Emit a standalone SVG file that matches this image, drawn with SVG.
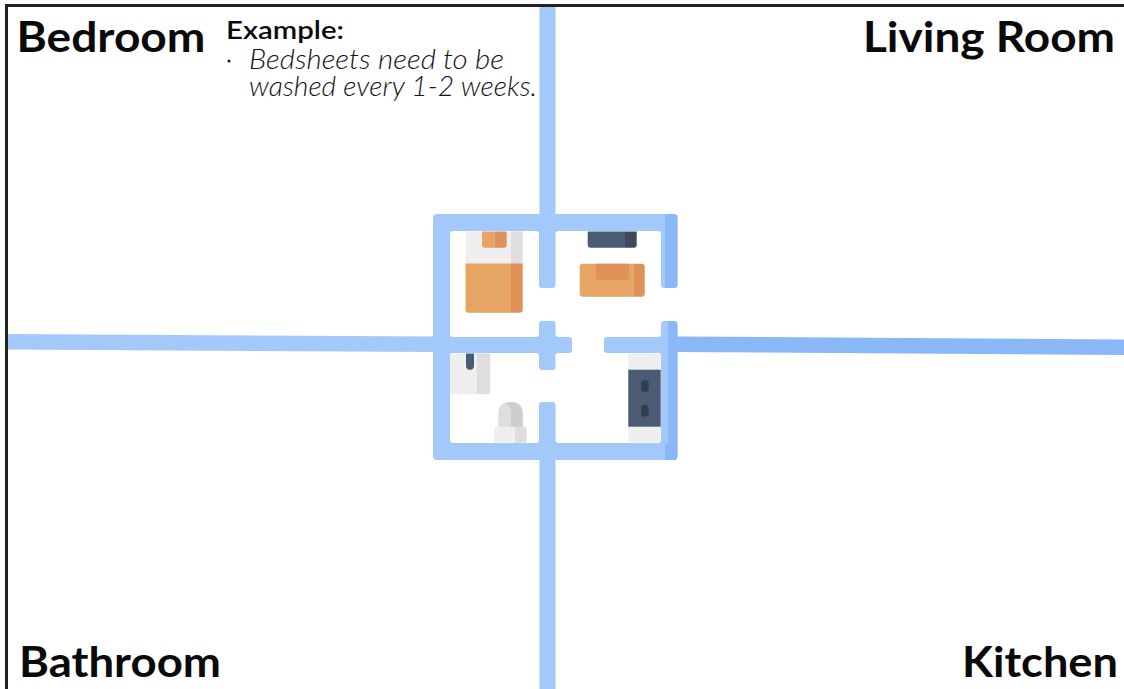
<svg xmlns="http://www.w3.org/2000/svg" width="1124" height="689" viewBox="0 0 1124 689">
<style>
.t{font-family:"Lato","Liberation Sans",sans-serif;font-weight:700;fill:#0a0a0a}
.b{font-size:42px}
.e{font-size:25px;font-weight:600}
.i{font-family:"Lato","Liberation Sans",sans-serif;font-size:27px;font-style:italic;font-weight:300;fill:#141414}
.w{fill:#a3c9fb}.wd{fill:#8ab8f7}
.o{fill:#e6a565}.od{fill:#e09158}
.s{fill:#efefef}.sd{fill:#e0dde0}
.n{fill:#4b5b73}.nd{fill:#3e4a5c}
</style>
<rect width="1124" height="689" fill="#fff"/>
<g id="plan-lines">
<rect class="w" x="539.500" y="7" width="16" height="210"/>
<rect class="w" x="539.500" y="457" width="16" height="232"/>
<polygon class="w" points="8,334 436,336.500 436,352 8,349.500"/>
<polygon class="wd" points="674,336.500 1124,339.500 1124,355 674,352"/>
</g>
<path d="M6.500 689V5.500H1124" fill="none" stroke="#222" stroke-width="3"/>
<g id="floor-plan">
<rect class="w" x="433" y="214" width="244.500" height="246" rx="4"/>
<path class="wd" d="M665 214H673.500Q677.500 214 677.500 218V456Q677.500 460 673.500 460H665V443H668V321H665V214Z"/>
<path fill="#fff" d="M453 231H536Q539 231 539 234V285Q539 288 542 288H552.500Q555.500 288 555.500 285V234Q555.500 231 558.500 231H658Q661 231 661 234V285Q661 288 664 288H674.500Q677.500 288 677.500 285H681V324H677.500Q677.500 321 674.500 321H664Q661 321 661 324V334Q661 337 658 337H607Q604 337 604 340V350Q604 353 607 353H658Q661 353 661 356V440Q661 443 658 443H558.500Q555.500 443 555.500 440V405Q555.500 402 552.500 402H542Q539 402 539 405V440Q539 443 536 443H453Q450 443 450 440V356Q450 353 453 353H536Q539 353 539 356V367Q539 370 542 370H552.500Q555.500 370 555.500 367V356Q555.500 353 558.500 353H569Q572 353 572 350V340Q572 337 569 337H558.500Q555.500 337 555.500 334V324Q555.500 321 552.500 321H542Q539 321 539 324V334Q539 337 536 337H453Q450 337 450 334V234Q450 231 453 231Z"/>
</g>
<g id="bed">
<rect class="s" x="465.500" y="231.500" width="46" height="33"/>
<rect class="sd" x="511" y="231.500" width="11.700" height="33"/>
<path class="o" d="M465.500 263.500H511V312.700H468.500Q465.500 312.700 465.500 309.700Z"/>
<path class="od" d="M511 263.500H522.700V309.700Q522.700 312.700 519.700 312.700H511Z"/>
<path class="o" d="M482 231.500H494.700V247.700H485Q482 247.700 482 244.700Z"/>
<path class="od" d="M494.700 231.500H506.700V244.700Q506.700 247.700 503.700 247.700H494.700Z"/>
</g>
<g id="tv">
<path class="n" d="M587.700 231.500H625V247.700H590.700Q587.700 247.700 587.700 244.700Z"/>
<path class="nd" d="M625 231.500H636.700V244.700Q636.700 247.700 633.700 247.700H625Z"/>
</g>
<g id="sofa">
<path class="o" d="M582.700 263.700H633.300V296.700H582.700Q579.700 296.700 579.700 293.700V266.700Q579.700 263.700 582.700 263.700Z"/>
<path class="od" d="M633.300 263.700H641.700Q644.700 263.700 644.700 266.700V293.700Q644.700 296.700 641.700 296.700H633.300Z"/>
<path class="od" d="M596 263.700H629V277Q629 280 626 280H599Q596 280 596 277Z"/>
</g>
<g id="sink">
<path class="s" d="M450 353.500H476.700V394.300H450Z"/>
<path class="sd" d="M476.700 353.500H490.300V391.300Q490.300 394.300 487.300 394.300H476.700Z"/>
<path class="n" d="M466 353.500H474V366Q474 369.700 470 369.700Q466 369.700 466 366Z"/>
</g>
<g id="toilet">
<path class="sd" d="M498.300 427V414Q498.300 402 510.500 402Q522.700 402 522.700 414V427Z"/>
<path fill="#d0cbd0" d="M510.500 402Q522.700 402 522.700 414V427H511V413Q511 405 505 403.500Q507.500 402 510.500 402Z"/>
<path class="s" d="M494 442.700V429.700Q494 426.700 497 426.700H515V442.700Z"/>
<path class="sd" d="M515 426.700H523.700Q526.700 426.700 526.700 429.700V442.700H515Z"/>
</g>
<g id="stove">
<path class="s" d="M628.300 353.500H657.700Q660.700 353.500 660.700 356.500V439.700Q660.700 442.700 657.700 442.700H628.300Z"/>
<rect class="n" x="628.300" y="369.700" width="32.400" height="57"/>
<rect fill="#2f3f4b" x="641" y="380" width="7.700" height="12" rx="3.800"/>
<rect fill="#2f3f4b" x="641" y="404.700" width="7.700" height="12" rx="3.800"/>
</g>
<g id="labels">
<text class="t b" x="16.500" y="52" textLength="189" lengthAdjust="spacingAndGlyphs">Bedroom</text>
<text class="t b" x="863" y="52" textLength="252" lengthAdjust="spacingAndGlyphs">Living Room</text>
<text class="t b" x="19" y="677" textLength="202" lengthAdjust="spacingAndGlyphs">Bathroom</text>
<text class="t b" x="962" y="677" textLength="156" lengthAdjust="spacingAndGlyphs">Kitchen</text>
<text class="t e" x="226" y="39" textLength="118" lengthAdjust="spacingAndGlyphs">Example:</text>
<circle cx="229" cy="61" r="1.500" fill="#141414"/>
<text class="i" x="249" y="69" textLength="255" lengthAdjust="spacingAndGlyphs">Bedsheets need to be</text>
<text class="i" x="249" y="96" textLength="288" lengthAdjust="spacingAndGlyphs">washed every 1-2 weeks.</text>
</g>
</svg>
